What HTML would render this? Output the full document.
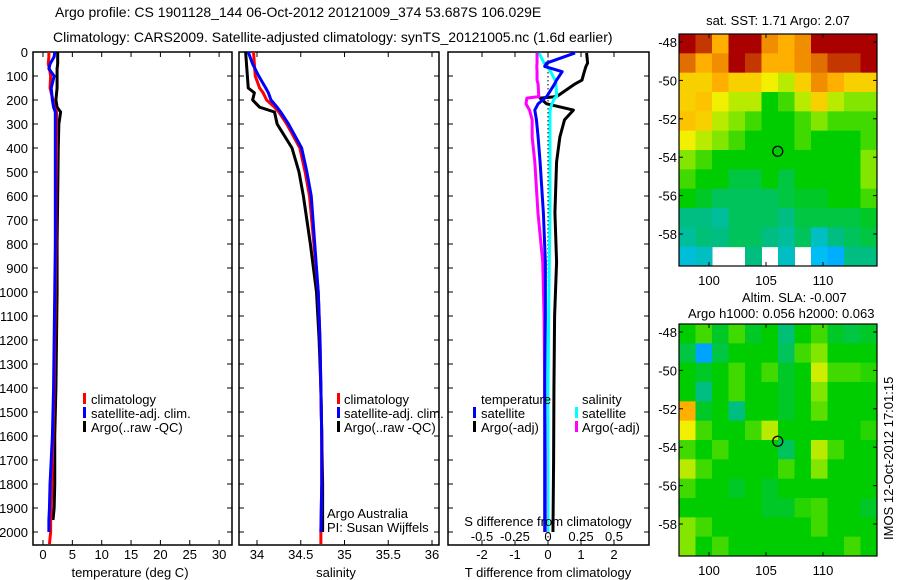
<!DOCTYPE html>
<html><head><meta charset="utf-8"><style>
body{margin:0;background:#fff}
svg{display:block;font-family:"Liberation Sans",sans-serif;font-size:13px}
</style></head><body>
<svg id="fig" width="900" height="580" viewBox="0 0 900 580" xmlns="http://www.w3.org/2000/svg">
<text x="55" y="17" font-size="14">Argo profile: CS 1901128_144 06-Oct-2012 20121009_374 53.687S 106.029E</text>
<text x="53" y="42" font-size="14">Climatology: CARS2009. Satellite-adjusted climatology: synTS_20121005.nc (1.6d earlier)</text>
<g id="g"></g>
</svg>
<script>
// ---- profile data ----
const depthsT=[0,20,50,70,100,150,200,230,250,300,400,600,800,1000,1200,1400,1500,1600,1700,1800,1900,1950,2000,2050];
const climT=[1.0,1.0,0.9,1.1,1.3,1.2,1.7,1.9,2.3,2.3,2.3,2.2,2.2,2.1,2.0,1.9,1.8,1.7,1.6,1.5,1.4,1.3,1.3,1.1];
const satT=[2.0,1.9,1.2,1.0,1.9,1.4,1.6,1.8,2.1,2.1,2.1,2.1,2.1,2.0,1.9,1.8,1.7,1.6,1.4,1.2,1.1,1.0,1.0];
const argoT=[2.5,2.5,2.5,2.4,2.4,2.4,2.2,2.4,3.0,2.7,2.6,2.5,2.4,2.4,2.3,2.2,2.1,2.0,2.0,2.0,1.9,1.7];
const depthsS=[0,50,100,150,170,200,230,250,300,400,500,600,800,1000,1200,1400,1600,1800,2000,2050];
const climS=[33.96,33.97,33.98,34.03,34.07,34.11,34.2,34.25,34.34,34.49,34.55,34.6,34.65,34.7,34.72,34.73,34.74,34.74,34.73,34.73];
const satS=[33.90,33.95,34.02,34.1,34.13,34.16,34.23,34.27,34.36,34.51,34.57,34.62,34.66,34.7,34.72,34.73,34.74,34.74,34.73];
const argoS=[33.87,33.88,33.89,33.9,33.97,33.95,34.03,34.2,34.23,34.4,34.48,34.53,34.61,34.68,34.71,34.73,34.74,34.75,34.75];
const diffDepths=[4,46,60,82,117,133,186,192,216,242,283,354,458,670,875,1100,1400,1700,2000];
const argoDT=[1.17,1.2,1.15,1.1,1.03,0.82,0.26,-0.24,-0.04,0.77,0.5,0.36,0.26,0.21,0.26,0.2,0.18,0.17,0.15];
const satDT=[0.82,-0.04,-0.1,0.43,0.26,0.2,-0.04,-0.1,-0.3,-0.4,-0.35,-0.3,-0.24,-0.14,-0.08,-0.08,-0.1,-0.1,-0.1];
const satDS=[-0.068,-0.03,-0.01,0.02,0.053,0.06,0.066,0.05,0.03,0.015,0.015,0.015,0.015,0.015,0.01,0.005,0.0,0.0,0.0];
const argoDS=[-0.083,-0.083,-0.085,-0.083,-0.083,-0.075,-0.07,-0.16,-0.167,-0.14,-0.12,-0.12,-0.1,-0.076,-0.04,-0.03,-0.025,-0.02,-0.02];
const depthTicks=[0,100,200,300,400,500,600,700,800,900,1000,1100,1200,1300,1400,1500,1600,1700,1800,1900,2000];
const tempTicks=[0,5,10,15,20,25,30];
const salTicks=[34,34.5,35,35.5,36];
const tdTicks=[-2,-1,0,1,2];
const sdTicks=[-0.5,-0.25,0,0.25,0.5];
// ---- map data (normalized colour index) ----
const sstGrid=[
[.95,.9,.75,.95,.95,.8,.75,.8,.95,.95,.95,.95],
[.85,.75,.8,.95,.9,.75,.75,.8,.85,.9,.9,.95],
[.7,.7,.75,.7,.7,.65,.6,.7,.8,.75,.7,.7],
[.7,.72,.65,.6,.6,.45,.5,.6,.7,.6,.55,.55],
[.72,.7,.6,.55,.5,.45,.45,.5,.55,.5,.5,.5],
[.65,.6,.55,.5,.45,.45,.45,.5,.45,.45,.45,.5],
[.55,.5,.45,.45,.45,.45,.45,.45,.45,.45,.45,.55],
[.5,.45,.45,.4,.4,.45,.4,.45,.45,.45,.45,.55],
[.45,.42,.38,.38,.38,.38,.4,.42,.42,.45,.45,.5],
[.35,.35,.33,.38,.38,.38,.35,.4,.4,.4,.4,.42],
[.33,.36,.35,.38,.38,.35,.33,.38,.3,.35,.38,.4],
[.28,.3,null,null,.35,null,.3,null,.26,.22,.35,.35]];
const slaGrid=[
[.45,.5,.42,.5,.42,.45,.36,.45,.5,.42,.4,.42],
[.4,.2,.4,.45,.45,.45,.38,.5,.55,.45,.45,.45],
[.45,.42,.45,.5,.45,.5,.42,.45,.62,.5,.5,.48],
[.45,.35,.45,.5,.45,.45,.42,.45,.55,.45,.45,.45],
[.75,.42,.45,.35,.45,.45,.42,.45,.52,.45,.45,.45],
[.65,.5,.45,.45,.5,.6,.45,.45,.45,.45,.45,.48],
[.5,.45,.5,.45,.45,.45,.38,.45,.6,.5,.45,.45],
[.6,.5,.45,.45,.45,.45,.5,.45,.55,.45,.45,.45],
[.5,.45,.45,.42,.45,.42,.45,.45,.45,.45,.45,.45],
[.45,.45,.45,.45,.45,.42,.42,.48,.5,.45,.45,.42],
[.55,.5,.45,.45,.45,.45,.45,.45,.5,.45,.45,.45],
[.55,.45,.5,.45,.45,.45,.45,.45,.45,.45,.5,.45]];
const latTicks=[-48,-50,-52,-54,-56,-58];
const lonTicks=[100,105,110];
const argoPos=[106.03,-53.69];

const NS="http://www.w3.org/2000/svg";
const G=document.getElementById('g');
function mk(t,a,p){const e=document.createElementNS(NS,t);for(const k in a)e.setAttribute(k,a[k]);(p||G).appendChild(e);return e;}
const top0=52, bot=545;
const yD=d=>top0+d*0.24;
function poly(xs,ds,fx,col,name,w){
  const pts=[];for(let i=0;i<xs.length&&i<ds.length;i++){pts.push(fx(xs[i])+','+yD(ds[i]));}
  const e=mk('polyline',{points:pts.join(' '),fill:'none',stroke:col,'stroke-width':w||3,'stroke-linejoin':'round'});
  
  
}
function txt(x,y,s,name,anchor,extra){const e=mk('text',Object.assign({x:x,y:y,'text-anchor':anchor||'start'},extra||{}));e.textContent=s;
  
  return e;}
function frame(x0,x1,name){const e=mk('rect',{x:x0,y:top0,width:x1-x0,height:bot-top0,fill:'none',stroke:'#000','stroke-width':1.5});
  
  
  depthTicks.forEach(d=>{mk('line',{x1:x0,x2:x0+5,y1:yD(d),y2:yD(d),stroke:'#000'});mk('line',{x1:x1,x2:x1-5,y1:yD(d),y2:yD(d),stroke:'#000'});});}
function legendBar(x,y,col,name){const e=mk('rect',{x:x,y:y-10,width:3,height:11,fill:col});
  
  }

// Panel 1 temperature
const xT=v=>43+v*5.87;
frame(33,232,'temperature-panel');
depthTicks.forEach(d=>txt(28,yD(d)+5,String(d),'depth-tick-label','end'));
tempTicks.forEach(v=>{mk('line',{x1:xT(v),x2:xT(v),y1:bot,y2:bot-5,stroke:'#000'});mk('line',{x1:xT(v),x2:xT(v),y1:top0,y2:top0+5,stroke:'#000'});txt(xT(v),559,String(v),'temperature-tick-label','middle');});
poly(argoT,depthsT,xT,'#000','argo-temperature-line');
poly(climT,depthsT,xT,'#f00','climatology-temperature-line');
poly(satT,depthsT,xT,'#00f','satellite-temperature-line');
txt(130,577,'temperature (deg C)','temperature-axis-title','middle');
legendBar(83,403,'#f00','legend-climatology-swatch');txt(91,404,'climatology','legend-climatology');
legendBar(83,417,'#00f','legend-satellite-swatch');txt(91,418,'satellite-adj. clim.','legend-satellite');
legendBar(83,431,'#000','legend-argo-swatch');txt(91,432,'Argo(..raw -QC)','legend-argo');

// Panel 2 salinity
const xS=v=>257+(v-34)*87.5;
frame(239,439,'salinity-panel');
salTicks.forEach(v=>{mk('line',{x1:xS(v),x2:xS(v),y1:bot,y2:bot-5,stroke:'#000'});mk('line',{x1:xS(v),x2:xS(v),y1:top0,y2:top0+5,stroke:'#000'});txt(xS(v),559,String(v),'salinity-tick-label','middle');});
poly(argoS,depthsS,xS,'#000','argo-salinity-line');
poly(climS,depthsS,xS,'#f00','climatology-salinity-line');
poly(satS,depthsS,xS,'#00f','satellite-salinity-line');
txt(336,577,'salinity','salinity-axis-title','middle');
legendBar(337,403,'#f00','legend2-climatology-swatch');txt(344,404,'climatology','legend2-climatology');
legendBar(337,417,'#00f','legend2-satellite-swatch');txt(344,418,'satellite-adj. clim.','legend2-satellite');
legendBar(337,431,'#000','legend2-argo-swatch');txt(344,432,'Argo(..raw -QC)','legend2-argo');
txt(327,518,'Argo Australia','credit-argo-australia');
txt(327,532,'PI: Susan Wijffels','credit-pi');

// Panel 3 differences
const xDT=v=>548+v*33;
const xDS=v=>548+v*132;
frame(448,649,'difference-panel');
mk('line',{x1:548,x2:548,y1:top0,y2:bot,stroke:'#000','stroke-dasharray':'1.5,2.5'});
tdTicks.forEach(v=>{mk('line',{x1:xDT(v),x2:xDT(v),y1:bot,y2:bot-5,stroke:'#000'});mk('line',{x1:xDT(v),x2:xDT(v),y1:top0,y2:top0+5,stroke:'#000'});txt(xDT(v),559,String(v),'t-difference-tick-label','middle');});
sdTicks.forEach(v=>txt(xDS(v),541,String(v),'s-difference-tick-label','middle'));
poly(argoDT,diffDepths,xDT,'#000','argo-t-difference-line');
poly(satDS,diffDepths,xDS,'#0ff','satellite-s-difference-line');
poly(argoDS,diffDepths,xDS,'#f0f','argo-s-difference-line');
poly(satDT,diffDepths,xDT,'#00f','satellite-t-difference-line');
txt(548,577,'T difference from climatology','t-difference-axis-title','middle');
txt(548,526,'S difference from climatology','s-difference-axis-title','middle',{fill:'#000'});
txt(481,404,'temperature','legend3-temperature-heading');
legendBar(473,417,'#00f','legend3-t-satellite-swatch');txt(481,418,'satellite','legend3-t-satellite');
legendBar(473,431,'#000','legend3-t-argo-swatch');txt(481,432,'Argo(-adj)','legend3-t-argo');
txt(582,404,'salinity','legend3-salinity-heading');
legendBar(575,417,'#0ff','legend3-s-satellite-swatch');txt(582,418,'satellite','legend3-s-satellite');
legendBar(575,431,'#f0f','legend3-s-argo-swatch');txt(582,432,'Argo(-adj)','legend3-s-argo');

// Maps
const stops=[[0,[0,60,255]],[.25,[0,190,255]],[.35,[0,190,130]],[.45,[0,205,0]],[.55,[130,230,0]],[.65,[240,240,0]],[.75,[255,175,0]],[.85,[225,110,0]],[.95,[170,0,0]],[1,[160,0,0]]];
function cmap(v){for(let i=1;i<stops.length;i++){if(v<=stops[i][0]){const a=stops[i-1],b=stops[i],t=(v-a[0])/(b[0]-a[0]);return 'rgb('+a[1].map((c,j)=>Math.round(c+(b[1][j]-c)*t)).join(',')+')';}}return 'rgb(160,0,0)';}
function drawMap(grid,y0,name){
  const x0=679,x1=877,y1=y0+232;
  const lonX=l=>709+(l-100)*11.4, latY=l=>y0+8+(-48-l)*19.2;
  const cw=(x1-x0)/grid[0].length, ch=(y1-y0)/grid.length;
  grid.forEach((row,r)=>row.forEach((v,c)=>{if(v===null)return;
    const e=mk('rect',{x:x0+c*cw,y:y0+r*ch,width:cw+0.5,height:ch+0.5,fill:cmap(v)});
    
    }));
  const f=mk('rect',{x:x0,y:y0,width:x1-x0,height:y1-y0,fill:'none',stroke:'#000','stroke-width':1.2});
  
  
  latTicks.forEach(l=>{mk('line',{x1:x0,x2:x0+4,y1:latY(l),y2:latY(l),stroke:'#000'});mk('line',{x1:x1,x2:x1-4,y1:latY(l),y2:latY(l),stroke:'#000'});txt(x0-2,latY(l)+5,String(l),name+'-lat-label','end');});
  lonTicks.forEach(l=>{mk('line',{x1:lonX(l),x2:lonX(l),y1:y1,y2:y1-4,stroke:'#000'});mk('line',{x1:lonX(l),x2:lonX(l),y1:y0,y2:y0+4,stroke:'#000'});txt(lonX(l),y1+19,String(l),name+'-lon-label','middle');});
  const m=mk('circle',{cx:lonX(argoPos[0]),cy:latY(argoPos[1]),r:5,fill:'none',stroke:'#000','stroke-width':1.3});
  
  
}
drawMap(sstGrid,34,'sst-map');
drawMap(slaGrid,324,'sla-map');
txt(778,25,'sat. SST: 1.71 Argo: 2.07','sst-map-title','middle');
txt(742,302,'Altim. SLA: -0.007','sla-map-title','start');
txt(688,318,'Argo h1000: 0.056 h2000: 0.063','sla-map-subtitle','start');
txt(0,0,'IMOS 12-Oct-2012 17:01:15','imos-timestamp','start',{transform:'translate(893,540) rotate(-90)'});
</script>
</body></html>
